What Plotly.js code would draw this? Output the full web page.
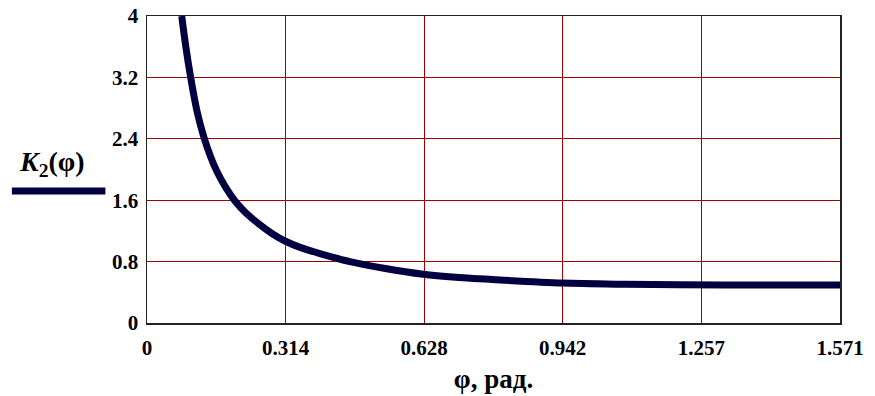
<!DOCTYPE html>
<html>
<head>
<meta charset="utf-8">
<script src="https://cdn.plot.ly/plotly-3.0.1.min.js"></script>
<style>html,body{margin:0;padding:0;background:#fff;}#chart{width:875px;height:396px;}</style>
</head>
<body>
<div id="chart"></div>
<script>
var phi = [0.0787, 0.088, 0.099, 0.113, 0.129, 0.144, 0.158, 0.178, 0.1995, 0.225, 0.256, 0.285, 0.314, 0.347, 0.392, 0.46, 0.54, 0.626, 0.70, 0.80, 0.942, 1.08, 1.208, 1.40, 1.571];
var K2 = [4.0, 3.6, 3.2, 2.77, 2.42, 2.17, 1.98, 1.77, 1.59, 1.43, 1.28, 1.16, 1.065, 0.985, 0.905, 0.8, 0.71, 0.635, 0.595, 0.56, 0.52, 0.505, 0.497, 0.495, 0.495];
var xTickVals = [0, 0.314, 0.628, 0.942, 1.257, 1.571];
var xTickText = ["0", "0.314", "0.628", "0.942", "1.257", "1.571"];
var yTickVals = [0, 0.8, 1.6, 2.4, 3.2, 4];
var yTickText = ["0", "0.8", "1.6", "2.4", "3.2", "4"];

var serif = "Liberation Serif, Times New Roman, serif";
var trace = {
  x: phi, y: K2, type: "scatter", mode: "lines",
  line: {color: "#000040", width: 7, shape: "spline", smoothing: 0.8},
  hoverinfo: "none", showlegend: false, cliponaxis: true
};
var gridColor = "#a00000";
var layout = {
  width: 875, height: 396,
  margin: {l: 147, r: 35, t: 16, b: 73},
  paper_bgcolor: "#fff", plot_bgcolor: "#fff",
  showlegend: false,
  xaxis: {
    range: [0, 1.571], tickmode: "array", tickvals: xTickVals, ticktext: xTickText,
    showgrid: true, gridcolor: gridColor, gridwidth: 1, zeroline: false,
    showline: true, linecolor: "#222", linewidth: 1.5, mirror: true,
    ticks: "outside", ticklen: 5, tickcolor: "rgba(0,0,0,0)",
    tickfont: {family: serif, size: 21, color: "#000", weight: "bold"},
    title: {text: "φ, рад.", font: {family: serif, size: 27, color: "#000", weight: "bold"}, standoff: 10}
  },
  yaxis: {
    range: [0, 4], tickmode: "array", tickvals: yTickVals, ticktext: yTickText,
    showgrid: true, gridcolor: gridColor, gridwidth: 1, zeroline: false,
    showline: true, linecolor: "#222", linewidth: 1.5, mirror: true,
    ticks: "outside", ticklen: 3, tickcolor: "rgba(0,0,0,0)",
    tickfont: {family: serif, size: 21, color: "#000", weight: "bold"}
  },
  shapes: [{
    type: "line", xref: "paper", yref: "paper",
    x0: -0.195, x1: -0.06, y0: 0.43, y1: 0.43,
    line: {color: "#000040", width: 7}
  }],
  annotations: [{
    xref: "paper", yref: "paper", x: -0.137, y: 0.52, xanchor: "center", yanchor: "middle",
    showarrow: false,
    text: "<b><i>K</i><sub>2</sub>(φ)</b>",
    font: {family: serif, size: 28, color: "#000"}
  }]
};
Plotly.newPlot("chart", [trace], layout, {staticPlot: true, displayModeBar: false});
</script>
</body>
</html>
